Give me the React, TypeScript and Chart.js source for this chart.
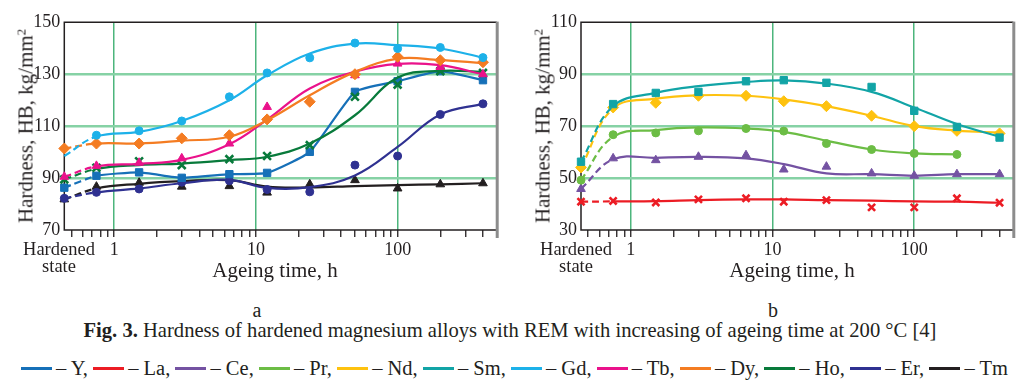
import React, { useEffect, useRef } from "react";
import { Chart, registerables } from "chart.js";

Chart.register(...registerables);

// ---------- data ----------
const HARDENED = 0.445; // position of the "Hardened state" on the log axis
const X_MAX = 500;
const ageingHours = [HARDENED, 0.75, 1.5, 3, 6.5, 12, 24, 50, 100, 200, 400];
const xTickValues = [
  0.5, 0.6, 0.7, 0.8, 0.9, 1, 2, 3, 4, 5, 6, 7, 8, 9, 10, 20, 30, 40, 50, 60, 70, 80, 90, 100, 200, 300, 400, 500,
];
const xLabelledTicks = [1, 10, 100];
const leftYTicks = [70, 90, 110, 130, 150];
const rightYTicks = [30, 50, 70, 90, 110];

// panel a: measured points (marks) and fitted curve (curve)
const yMarks = [86.3, 90.9, 92.2, 90.1, 91.5, 92.0, 100.1, 123.2, 127.3, 131.2, 127.7];
const yCurve = [86.3, 90.9, 92.2, 90.1, 91.5, 92.0, 100.1, 123.2, 127.3, 131.2, 127.7];
const gdMarks = [null, 106.5, 108.2, 112.0, 121.3, 130.5, 136.3, 142.0, 139.9, 140.3, 136.4];
const gdCurve = [98.5, 106.0, 107.8, 112.0, 120.0, 129.6, 138.0, 141.8, 141.2, 139.9, 136.4];
const tbMarks = [90.5, 94.7, 95.9, 97.6, 103.3, 117.4, null, 129.6, 134.1, 132.8, 130.0];
const tbCurve = [90.5, 94.5, 95.5, 97.0, 103.0, 112.5, 124.5, 131.0, 134.0, 133.5, 130.0];
const dyMarks = [101.4, 103.3, 103.3, 105.3, 106.5, 112.6, 119.4, 130.0, 136.7, 135.4, 134.6];
const dyCurve = [101.4, 103.3, 103.3, 104.4, 105.9, 112.3, 121.9, 130.9, 136.0, 135.4, 134.3];
const hoMarks = [89.5, 94.0, 96.5, 95.0, 97.3, 98.5, 102.7, 121.3, 126.0, 131.2, 130.5];
const hoCurve = [89.5, 93.5, 95.0, 95.6, 96.9, 98.2, 103.3, 114.2, 128.7, 131.3, 130.9];
const erMarks = [82.2, 84.5, 85.8, 88.4, 89.0, 85.6, 84.7, 95.0, 98.5, 114.5, 118.6];
const erCurve = [82.2, 84.5, 86.0, 88.0, 89.3, 86.2, 86.5, 91.0, 102.0, 114.5, 118.6];
const tmMarks = [81.8, 86.7, 88.2, 86.7, 86.9, 84.4, 87.6, 89.2, 86.0, 87.6, 88.0];
const tmCurve = [81.8, 86.0, 87.8, 88.8, 89.2, 86.7, 86.4, 86.9, 87.3, 87.6, 88.0];

// panel b
const smMarks = [56.3, 78.5, 82.8, 83.2, 87.3, 87.7, 86.7, 85.1, 75.9, 69.7, 65.6];
const smCurve = [56.3, 77.7, 82.8, 85.4, 87.0, 87.6, 86.4, 83.2, 77.2, 70.8, 65.9];
const ndMarks = [54.1, 77.2, 79.0, 81.7, 81.7, 79.6, 77.7, 74.0, 70.0, 68.2, 67.2];
const ndCurve = [54.1, 76.8, 80.6, 81.9, 81.7, 80.3, 77.7, 74.0, 70.0, 68.3, 67.5];
const prMarks = [49.2, 66.7, 67.4, 68.2, 69.1, 68.1, 63.3, 61.0, 59.5, 59.1, null];
const prCurve = [49.2, 65.9, 68.5, 69.5, 69.1, 67.8, 64.4, 61.0, 59.5, 59.1, null];
const ceMarks = [45.8, 57.6, 56.9, 58.2, 58.8, 53.3, 54.4, 51.8, 50.9, 51.5, 51.5];
const ceCurve = [45.8, 57.2, 57.8, 58.2, 57.6, 55.4, 51.8, 51.5, 50.9, 51.5, 51.5];
const laMarks = [40.9, 41.2, 40.6, 41.8, 42.2, 40.9, 41.5, 38.7, 38.7, 42.2, 40.5];
const laCurve = [40.9, 41.0, 41.1, 41.5, 41.8, 41.8, 41.5, 41.3, 41.0, 40.9, 40.5];

const legendNames = ["Y", "La", "Ce", "Pr", "Nd", "Sm", "Gd", "Tb", "Dy", "Ho", "Er", "Tm"];
const COLORS: Record<string, string> = {
  Y: "#1670b8",
  La: "#ec1c24",
  Ce: "#7452a2",
  Pr: "#6cbd45",
  Nd: "#fec20f",
  Sm: "#12a4a6",
  Gd: "#1db1e9",
  Tb: "#ea128b",
  Dy: "#f47c22",
  Ho: "#087a3b",
  Er: "#2f3191",
  Tm: "#231f20",
};

const FONT = "'Liberation Serif', 'Times New Roman', serif";

type Series = {
  name: string;
  marks: (number | null)[];
  curve: (number | null)[];
  style: string;
  radius: number;
  tension?: number;
};

const seriesA: Series[] = [
  { name: "Tm", marks: tmMarks, curve: tmCurve, style: "triangle", radius: 5 },
  { name: "Er", marks: erMarks, curve: erCurve, style: "circle", radius: 4 },
  { name: "Y", marks: yMarks, curve: yCurve, style: "rect", radius: 5.2, tension: 0.15 },
  { name: "Ho", marks: hoMarks, curve: hoCurve, style: "crossRot", radius: 5.5 },
  { name: "Tb", marks: tbMarks, curve: tbCurve, style: "triangle", radius: 5 },
  { name: "Dy", marks: dyMarks, curve: dyCurve, style: "rectRot", radius: 5.5 },
  { name: "Gd", marks: gdMarks, curve: gdCurve, style: "circle", radius: 4 },
];
const seriesB: Series[] = [
  { name: "La", marks: laMarks, curve: laCurve, style: "crossRot", radius: 5 },
  { name: "Ce", marks: ceMarks, curve: ceCurve, style: "triangle", radius: 5 },
  { name: "Pr", marks: prMarks, curve: prCurve, style: "circle", radius: 4 },
  { name: "Nd", marks: ndMarks, curve: ndCurve, style: "rectRot", radius: 5.5 },
  { name: "Sm", marks: smMarks, curve: smCurve, style: "rect", radius: 5.2 },
];

const framePlugin = {
  id: "frame",
  beforeDatasetsDraw(chart: any) {
    const { ctx, chartArea } = chart;
    const { left, right, top, bottom } = chartArea;
    ctx.save();
    ctx.strokeStyle = "#231f20";
    ctx.lineWidth = 1.5;
    ctx.beginPath();
    ctx.moveTo(right, top);
    ctx.lineTo(left, top);
    ctx.lineTo(left, bottom);
    ctx.lineTo(right, bottom);
    ctx.stroke();
    ctx.strokeStyle = "#8c8c8c";
    ctx.lineWidth = 3;
    ctx.beginPath();
    ctx.moveTo(right + 0.5, top - 0.7);
    ctx.lineTo(right + 0.5, bottom + 8);
    ctx.stroke();
    ctx.restore();
  },
};

function buildChart(
  canvas: HTMLCanvasElement,
  series: Series[],
  yTicks: number[],
  yAxisWidth: number,
  padRight: number
) {
  const yMin = yTicks[0];
  const yMax = yTicks[yTicks.length - 1];
  const datasets: any[] = [];
  series.forEach((s) => {
    const color = COLORS[s.name];
    datasets.push({
      label: s.name + " points",
      data: ageingHours.map((x, i) => ({ x, y: s.marks[i] })),
      showLine: false,
      pointStyle: s.style,
      pointRadius: s.radius,
      pointBackgroundColor: color,
      pointBorderColor: color,
      pointBorderWidth: s.style === "crossRot" ? 2.6 : 1,
      clip: false,
    });
    datasets.push({
      label: s.name,
      data: ageingHours.map((x, i) => ({ x, y: s.curve[i] })),
      borderColor: color,
      borderWidth: 2.2,
      pointRadius: 0,
      tension: s.tension ?? 0.4,
      spanGaps: true,
      fill: false,
      clip: false,
      segment: {
        borderDash: (ctx: any) => (ctx.p0DataIndex === 0 ? [7, 4] : undefined),
      },
    });
  });
  datasets.reverse();

  const tickFont = { family: FONT, size: 18 };
  return new Chart(canvas, {
    type: "line",
    data: { datasets },
    plugins: [framePlugin],
    options: {
      animation: false,
      responsive: false,
      devicePixelRatio: 1,
      events: [],
      layout: { padding: { left: 0, right: padRight, top: 22.3, bottom: 0 } },
      plugins: { legend: { display: false }, tooltip: { enabled: false } },
      scales: {
        x: {
          type: "logarithmic",
          min: HARDENED,
          max: X_MAX,
          afterBuildTicks: (scale: any) => {
            scale.ticks = xTickValues.map((v) => ({ value: v }));
          },
          afterFit: (scale: any) => {
            scale.height = 60;
          },
          border: { display: false },
          grid: {
            color: (ctx: any) =>
              ctx.tick && xLabelledTicks.includes(ctx.tick.value) ? "#4db57c" : "rgba(0,0,0,0)",
            lineWidth: 1.5,
            drawTicks: true,
            tickLength: 7,
            tickColor: "#231f20",
            tickWidth: 1.3,
          },
          ticks: {
            autoSkip: false,
            maxRotation: 0,
            minRotation: 0,
            padding: 2,
            color: "#231f20",
            font: tickFont,
            callback: (v: any) => (xLabelledTicks.includes(Number(v)) ? String(v) : ""),
          },
        },
        y: {
          type: "linear",
          min: yMin,
          max: yMax,
          afterBuildTicks: (scale: any) => {
            scale.ticks = yTicks.map((v) => ({ value: v }));
          },
          afterFit: (scale: any) => {
            scale.width = yAxisWidth;
          },
          border: { display: false },
          grid: {
            color: (ctx: any) =>
              ctx.tick && ctx.tick.value > yMin && ctx.tick.value < yMax ? "#86d2a5" : "rgba(0,0,0,0)",
            lineWidth: 2.6,
            drawTicks: false,
          },
          ticks: { padding: 4, color: "#231f20", font: tickFont },
        },
      },
    },
  } as any);
}

const abs = (s: React.CSSProperties): React.CSSProperties => ({ position: "absolute", ...s });

export default function App() {
  const leftRef = useRef<HTMLCanvasElement>(null);
  const rightRef = useRef<HTMLCanvasElement>(null);

  useEffect(() => {
    const a = buildChart(leftRef.current!, seriesA, leftYTicks, 64.3, 520 - 496.7);
    const b = buildChart(rightRef.current!, seriesB, rightYTicks, 65, 520 - 497.3);
    return () => {
      a.destroy();
      b.destroy();
    };
  }, []);

  const yTitle = (cx: number) => (
    <div
      style={abs({
        left: cx,
        top: 126,
        transform: "translate(-50%, -50%) rotate(-90deg)",
        whiteSpace: "nowrap",
        fontSize: 21,
        lineHeight: "21px",
      })}
    >
      Hardness, HB, kg/mm<sup style={{ fontSize: 13, verticalAlign: "7px", lineHeight: 0 }}>2</sup>
    </div>
  );
  const xTitle = (cx: number) => (
    <div
      style={abs({
        left: cx,
        top: 260.4,
        transform: "translateX(-50%)",
        whiteSpace: "nowrap",
        fontSize: 21,
        lineHeight: "21px",
      })}
    >
      Ageing time, h
    </div>
  );
  const hardened = (cx: number) => (
    <div
      style={abs({
        left: cx,
        top: 241.3,
        transform: "translateX(-50%)",
        textAlign: "center",
        fontSize: 18.5,
        lineHeight: "17px",
        whiteSpace: "nowrap",
      })}
    >
      Hardened
      <br />
      state
    </div>
  );

  return (
    <div
      style={abs({
        left: 0,
        top: 0,
        width: 1036,
        height: 388,
        background: "#fff",
        fontFamily: FONT,
        color: "#231f20",
        overflow: "hidden",
      })}
    >
      <canvas ref={leftRef} width={520} height={290} style={abs({ left: 0, top: 0, width: 520, height: 290 })} />
      <canvas ref={rightRef} width={520} height={290} style={abs({ left: 516, top: 0, width: 520, height: 290 })} />
      {yTitle(26)}
      {yTitle(543)}
      {xTitle(275)}
      {xTitle(792)}
      {hardened(59)}
      {hardened(576)}
      <div style={abs({ left: 257, top: 300, transform: "translateX(-50%)", fontSize: 20, lineHeight: "20px" })}>a</div>
      <div style={abs({ left: 773, top: 300, transform: "translateX(-50%)", fontSize: 20, lineHeight: "20px" })}>b</div>
      <div
        style={abs({
          left: 510,
          top: 320,
          transform: "translateX(-50%)",
          whiteSpace: "nowrap",
          fontSize: 20.6,
          lineHeight: "20px",
        })}
      >
        <b>Fig. 3.</b> Hardness of hardened magnesium alloys with REM with increasing of ageing time at 200 °C [4]
      </div>
      <div
        style={abs({
          left: 21,
          top: 358,
          width: 987,
          display: "flex",
          justifyContent: "space-between",
          alignItems: "center",
          whiteSpace: "nowrap",
          fontSize: 20.5,
          lineHeight: "20px",
        })}
      >
        {legendNames.map((n, i) => (
          <span key={n} style={{ display: "inline-flex", alignItems: "center" }}>
            <span style={{ display: "inline-block", width: 31, height: 3, background: COLORS[n], marginRight: 4 }} />
            <span>
              – {n}
              {i < legendNames.length - 1 ? "," : ""}
            </span>
          </span>
        ))}
      </div>
    </div>
  );
}
